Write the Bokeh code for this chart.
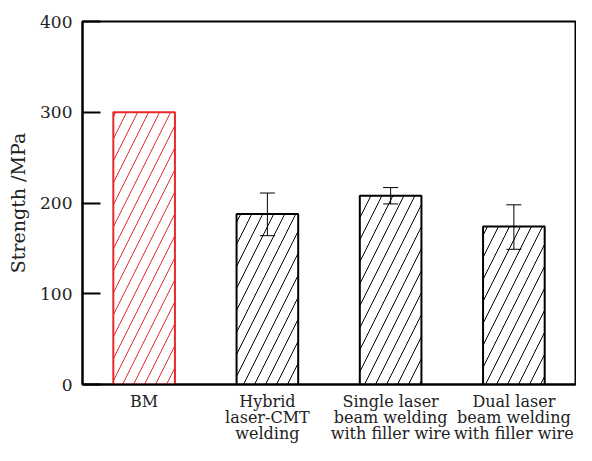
from bokeh.plotting import figure
from bokeh.models import ColumnDataSource, Whisker, TeeHead, FixedTicker, Range1d
from bokeh.embed import file_html
from bokeh.resources import INLINE

categories = ["BM", "Hybrid\nlaser-CMT\nwelding", "Single laser\nbeam welding\nwith filler wire", "Dual laser\nbeam welding\nwith filler wire"]
strength = [300, 188, 208, 174]
err_upper = [None, 211, 217, 198]
err_lower = [None, 164, 199, 149]
colors = ["#e8282b", "black", "black", "black"]
yticks = [0, 100, 200, 300, 400]

xs = list(range(1, len(categories) + 1))

p = figure(width=576, height=445, output_backend="svg", toolbar_location=None,
           x_range=Range1d(0.5, 4.5), y_range=Range1d(0, 400),
           min_border_left=82, min_border_right=1, min_border_top=21, min_border_bottom=51)

src = ColumnDataSource(dict(x=xs, top=strength, color=colors))
p.vbar(x="x", top="top", width=0.5, source=src, fill_color="white",
       line_color="color", line_width=2, hatch_pattern="/", hatch_color="color",
       hatch_scale=22, hatch_weight=1)

ex = [x for x, u in zip(xs, err_upper) if u is not None]
eu = [u for u in err_upper if u is not None]
el = [l for l in err_lower if l is not None]
esrc = ColumnDataSource(dict(base=ex, upper=eu, lower=el))
w = Whisker(source=esrc, base="base", upper="upper", lower="lower",
            line_color="black", line_width=1, level="overlay",
            upper_head=TeeHead(size=15, line_color="black", line_width=1),
            lower_head=TeeHead(size=15, line_color="black", line_width=1))
p.add_layout(w)

p.grid.visible = False
p.outline_line_color = "black"
p.outline_line_width = 2
p.outline_line_alpha = 1

font = "DejaVu Serif"
p.xaxis.ticker = FixedTicker(ticks=xs)
p.xaxis.major_label_overrides = {x: c for x, c in zip(xs, categories)}
p.xaxis.major_tick_line_color = None
p.xaxis.minor_tick_line_color = None
p.xaxis.axis_line_width = 2
p.xaxis.major_label_text_font = font
p.xaxis.major_label_text_font_size = "16px"
p.xaxis.major_label_text_color = "#222222"
p.xaxis.major_label_text_line_height = 0.85
p.xaxis.major_label_standoff = 1

p.yaxis.ticker = FixedTicker(ticks=yticks)
p.yaxis.major_tick_in = 18
p.yaxis.major_tick_out = 0
p.yaxis.major_tick_line_width = 2
p.yaxis.minor_tick_line_color = None
p.yaxis.axis_line_width = 2
p.yaxis.major_label_text_font = font
p.yaxis.major_label_text_font_size = "17px"
p.yaxis.major_label_text_color = "#222222"
p.yaxis.major_label_standoff = 10
p.yaxis.axis_label = "Strength /MPa"
p.yaxis.axis_label_text_font = font
p.yaxis.axis_label_text_font_size = "19px"
p.yaxis.axis_label_text_font_style = "normal"
p.yaxis.axis_label_text_color = "#222222"
p.yaxis.axis_label_standoff = 8

open("out.html", "w").write(file_html(p, INLINE))
